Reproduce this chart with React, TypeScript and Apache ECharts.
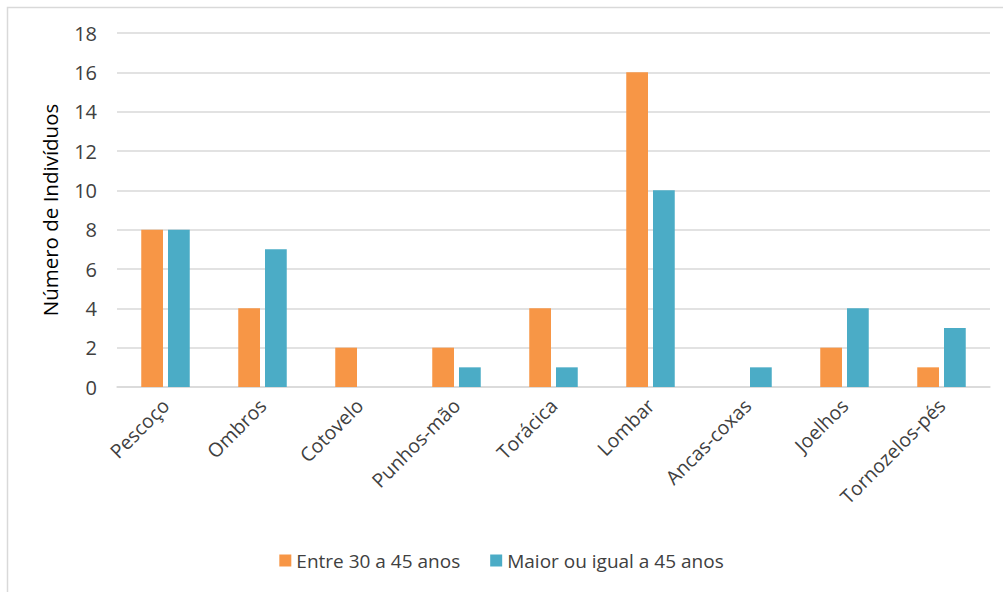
import React, { useEffect, useRef } from "react";
import * as echarts from "echarts";

const categories = ["Pescoço", "Ombros", "Cotovelo", "Punhos-mão", "Torácica", "Lombar", "Ancas-coxas", "Joelhos", "Tornozelos-pés"];
const serie30a45 = [8, 4, 2, 2, 4, 16, 0, 2, 1];
const serieMaior45 = [8, 7, 0, 1, 1, 10, 1, 4, 3];
const seriesNames = ["Entre 30 a 45 anos", "Maior ou igual a 45 anos"];
const yTitle = "Número de Indivíduos";

export default function App() {
  const ref = useRef<HTMLDivElement>(null);
  useEffect(() => {
    if (!ref.current) return;
    const chart = echarts.init(ref.current, undefined, { renderer: "svg" });
    const font = "'Open Sans', sans-serif";
    chart.setOption({
      animation: false,
      backgroundColor: "#ffffff",
      textStyle: { fontFamily: font },
      graphic: [
        {
          type: "rect",
          shape: { x: 7.5, y: 7.5, width: 1010, height: 600 },
          style: { fill: "none", stroke: "#d9d9d9", lineWidth: 1.5 },
          silent: true,
        },
      ],
      grid: { left: 117, right: 13, top: 33, bottom: 205, containLabel: false },
      legend: {
        bottom: 17,
        left: "center",
        itemWidth: 12,
        itemHeight: 12,
        itemGap: 30,
        icon: "rect",
        textStyle: { fontSize: 19, color: "#404040", fontFamily: font },
        data: seriesNames,
      },
      xAxis: {
        type: "category",
        data: categories,
        axisLine: { lineStyle: { color: "#d9d9d9", width: 1.5 } },
        axisTick: { show: false },
        axisLabel: { rotate: 45, fontSize: 19.5, color: "#404040", margin: 15, interval: 0, fontFamily: font },
      },
      yAxis: {
        type: "value",
        min: 0,
        max: 18,
        interval: 2,
        name: yTitle,
        nameLocation: "middle",
        nameGap: 57,
        nameRotate: 90,
        nameTextStyle: { fontSize: 20.5, color: "#000000", fontFamily: font },
        axisLine: { show: false },
        axisTick: { show: false },
        axisLabel: { fontSize: 20, color: "#404040", margin: 20, fontFamily: font },
        splitLine: { lineStyle: { color: "#d9d9d9", width: 1.5 } },
      },
      series: [
        {
          name: seriesNames[0],
          type: "bar",
          data: serie30a45,
          itemStyle: { color: "#F79646" },
          barGap: "23%",
          barCategoryGap: "50%",
        },
        {
          name: seriesNames[1],
          type: "bar",
          data: serieMaior45,
          itemStyle: { color: "#4BACC6" },
          barGap: "23%",
          barCategoryGap: "50%",
        },
      ],
    });
    return () => chart.dispose();
  }, []);
  return <div ref={ref} style={{ position: "fixed", left: 0, top: 0, width: 1003, height: 592 }} />;
}
